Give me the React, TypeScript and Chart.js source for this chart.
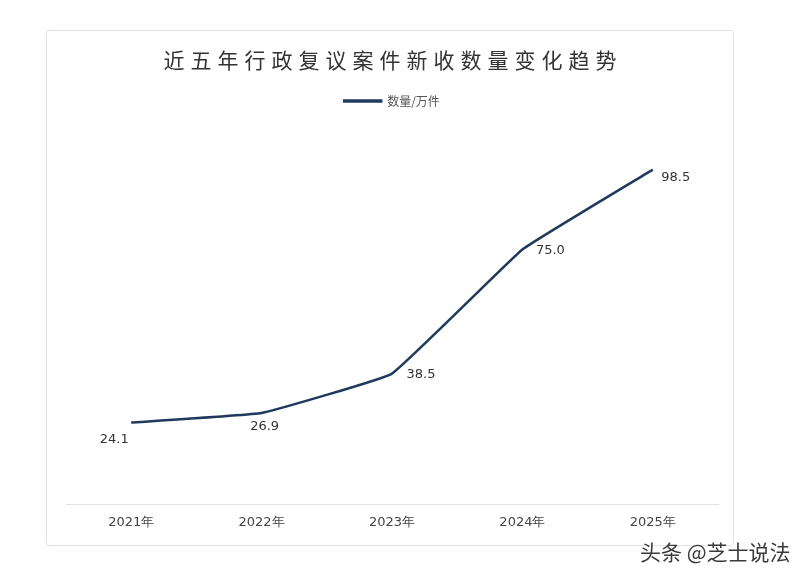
import React, { useEffect, useRef } from "react";
import { Chart, registerables } from "chart.js";

Chart.register(...registerables);

const chartTitle = "近五年行政复议案件新收数量变化趋势";
const seriesName = "数量/万件";
const years = ["2021年", "2022年", "2023年", "2024年", "2025年"];
const counts = [24.1, 26.9, 38.5, 75.0, 98.5];
const valueLabels = ["24.1", "26.9", "38.5", "75.0", "98.5"];

const lineColor = "#1f3a5c";
const labelOffsets = [
  [-17, 17],
  [3, 14],
  [29, 1],
  [28, 1],
  [23, 8],
];

const titlePlugin = {
  id: "spacedTitle",
  afterDraw(chart: any) {
    const ctx = chart.ctx;
    ctx.save();
    ctx.font = "normal 21px 'Noto Sans CJK SC', sans-serif";
    ctx.fillStyle = "#333333";
    ctx.textAlign = "center";
    ctx.textBaseline = "middle";
    (ctx as any).letterSpacing = "6px";
    ctx.fillText(chartTitle, 393, 60);
    ctx.restore();
  },
};

const valueLabelPlugin = {
  id: "valueLabels",
  afterDatasetsDraw(chart: any) {
    const ctx = chart.ctx;
    const meta = chart.getDatasetMeta(0);
    ctx.save();
    ctx.font = "13px 'DejaVu Sans', sans-serif";
    ctx.fillStyle = "#333333";
    ctx.textAlign = "center";
    ctx.textBaseline = "middle";
    meta.data.forEach((pt: any, i: number) => {
      const off = labelOffsets[i] || [0, -12];
      ctx.fillText(valueLabels[i], pt.x + off[0], pt.y + off[1]);
    });
    ctx.restore();
  },
};

export default function App() {
  const canvasRef = useRef<HTMLCanvasElement | null>(null);

  useEffect(() => {
    if (!canvasRef.current) return;
    const chart = new Chart(canvasRef.current, {
      type: "line",
      data: {
        labels: years,
        datasets: [
          {
            label: seriesName,
            data: counts,
            borderColor: lineColor,
            backgroundColor: lineColor,
            borderWidth: 2.5,
            pointRadius: 0,
            pointHoverRadius: 0,
            tension: 0.08,
            fill: false,
          },
        ],
      },
      options: {
        responsive: false,
        animation: false,
        layout: { padding: { top: 87, left: 66, right: 86, bottom: 38 } },
        plugins: {
          title: { display: false },
          tooltip: { enabled: false },
          legend: {
            display: true,
            position: "top",
            labels: {
              boxWidth: 37,
              boxHeight: 1,
              color: "#555555",
              font: { size: 12, family: "'Noto Sans CJK SC', sans-serif" },
              padding: 8,
            },
          },
        },
        scales: {
          x: {
            offset: true,
            grid: { display: false, drawTicks: false },
            border: { display: true, color: "#e2e2e2", width: 1 },
            ticks: {
              color: "#444444",
              padding: 10,
              font: { size: 13, family: "'DejaVu Sans', sans-serif" },
            },
          },
          y: {
            display: false,
            min: 0,
            max: 114,
          },
        },
      },
      plugins: [titlePlugin, valueLabelPlugin],
    });
    return () => chart.destroy();
  }, []);

  return (
    <div style={{ position: "absolute", left: 0, top: 0, width: 804, height: 578, background: "#ffffff", overflow: "hidden" }}>
      <div
        style={{
          position: "absolute",
          left: 46,
          top: 30,
          width: 688,
          height: 516,
          border: "1px solid #e3e3e3",
          boxSizing: "border-box",
          borderRadius: 3,
        }}
      />
      <canvas ref={canvasRef} width={804} height={578} style={{ position: "absolute", left: 0, top: 0 }} />
      <span
        style={{
          position: "absolute",
          left: 640,
          top: 536,
          fontSize: 21,
          fontFamily: "'Noto Sans CJK SC', sans-serif",
          color: "#3a3a3a",
          textShadow: "0 0 2px #ffffff, 0 0 2px #ffffff",
          whiteSpace: "nowrap",
        }}
      >
        头条 @芝士说法
      </span>
    </div>
  );
}
